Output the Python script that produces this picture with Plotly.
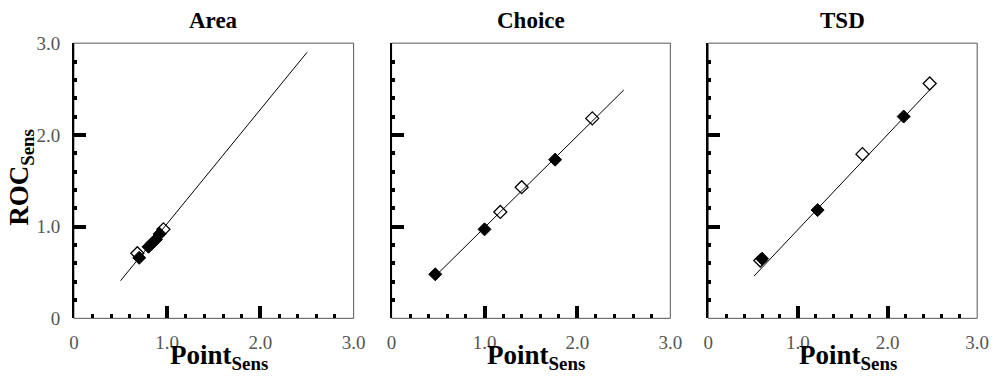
import plotly.graph_objects as go

panels = ["Area", "Choice", "TSD"]

area_filled_x = [0.70, 0.80, 0.84, 0.88, 0.92]
area_filled_y = [0.66, 0.78, 0.82, 0.86, 0.92]
area_open_x = [0.68, 0.96]
area_open_y = [0.71, 0.97]
area_line_x = [0.50, 2.50]
area_line_y = [0.41, 2.90]

choice_filled_x = [0.47, 1.00, 1.76]
choice_filled_y = [0.48, 0.97, 1.73]
choice_open_x = [1.17, 1.40, 2.16]
choice_open_y = [1.16, 1.43, 2.18]
choice_line_x = [0.47, 2.50]
choice_line_y = [0.46, 2.49]

tsd_filled_x = [0.60, 1.22, 2.18]
tsd_filled_y = [0.65, 1.18, 2.20]
tsd_open_x = [0.58, 1.72, 2.47]
tsd_open_y = [0.63, 1.79, 2.56]
tsd_line_x = [0.51, 2.48]
tsd_line_y = [0.46, 2.50]

tick_vals = [0, 1, 2, 3]
tick_text = ["0", "1.0", "2.0", "3.0"]

series = [
    (area_line_x, area_line_y, area_filled_x, area_filled_y, area_open_x, area_open_y),
    (choice_line_x, choice_line_y, choice_filled_x, choice_filled_y, choice_open_x, choice_open_y),
    (tsd_line_x, tsd_line_y, tsd_filled_x, tsd_filled_y, tsd_open_x, tsd_open_y),
]

W, H = 1000, 384
# the page photo is slightly squeezed; place things so the photo matches
OFF_X, SCALE_X = 4.0, 0.984
OFF_Y, SCALE_Y = 8.5, 0.955


def px(img_px):
    return min(1.0, ((img_px - OFF_X) / SCALE_X) / W)


def py(img_px):
    return 1 - ((img_px - OFF_Y) / SCALE_Y) / H


x_domains = [[px(73), px(353)], [px(391), px(670)], [px(708), min(px(987), 0.989)]]
y_domain = [py(320), py(42)]

SERIF = "Liberation Serif"
fig = go.Figure()

for i, (lx, ly, fx, fy, ox, oy) in enumerate(series):
    sfx = "" if i == 0 else str(i + 1)
    xa, ya = "x" + sfx, "y" + sfx
    fig.add_trace(go.Scatter(x=lx, y=ly, mode="lines", xaxis=xa, yaxis=ya,
                             line=dict(color="black", width=1), showlegend=False))
    fig.add_trace(go.Scatter(x=ox, y=oy, mode="markers", xaxis=xa, yaxis=ya,
                             marker=dict(symbol="diamond-open", size=10, color="black",
                                         line=dict(color="black", width=1.3)),
                             showlegend=False))
    fig.add_trace(go.Scatter(x=fx, y=fy, mode="markers", xaxis=xa, yaxis=ya,
                             marker=dict(symbol="diamond", size=10, color="black",
                                         line=dict(color="black", width=1)),
                             showlegend=False))

layout = dict(
    width=W, height=H,
    margin=dict(l=0, r=0, t=0, b=0),
    paper_bgcolor="white", plot_bgcolor="white",
    showlegend=False,
)

for i in range(3):
    sfx = "" if i == 0 else str(i + 1)
    layout["xaxis" + sfx] = dict(
        domain=x_domains[i], anchor="y" + sfx, range=[0, 3],
        tickvals=tick_vals, ticktext=tick_text,
        ticks="inside", ticklen=12, tickwidth=4, tickcolor="black",
        minor=dict(ticks="inside", dtick=0.2, tick0=0, ticklen=4, tickwidth=3, tickcolor="black"),
        showgrid=False, zeroline=False, showline=False,
        tickfont=dict(family=SERIF, size=19, color="#555555"),
        ticklabelstandoff=11, fixedrange=True,
    )
    layout["yaxis" + sfx] = dict(
        domain=y_domain, anchor="x" + sfx, range=[0, 3],
        tickvals=tick_vals, ticktext=tick_text,
        ticks="inside", ticklen=12, tickwidth=4, tickcolor="black",
        minor=dict(ticks="inside", dtick=0.2, tick0=0, ticklen=3, tickwidth=4, tickcolor="black"),
        showgrid=False, zeroline=False,
        showline=True, linecolor="black", linewidth=2,
        showticklabels=(i == 0),
        tickfont=dict(family=SERIF, size=19, color="#555555"),
        ticklabelstandoff=8, fixedrange=True,
    )

fig.update_layout(**layout)

shapes = []
annotations = []
for i in range(3):
    sfx = "" if i == 0 else str(i + 1)
    shapes.append(dict(type="rect", xref="x" + sfx + " domain", yref="y" + sfx + " domain",
                       x0=0, x1=1, y0=0, y1=1, line=dict(color="#555555", width=1),
                       layer="below"))
    cx = (x_domains[i][0] + x_domains[i][1]) / 2
    annotations.append(dict(text=panels[i], x=cx, y=py(19), xref="paper", yref="paper",
                            showarrow=False, xanchor="center", yanchor="middle",
                            font=dict(family=SERIF, size=23, color="black", weight="bold")))
    annotations.append(dict(text="Point<sub>Sens</sub>", x=cx + 0.005, y=py(359),
                            xref="paper", yref="paper", showarrow=False,
                            xanchor="center", yanchor="middle",
                            font=dict(family=SERIF, size=27, color="black", weight="bold")))
annotations.append(dict(text="ROC<sub>Sens</sub>", x=px(20), y=py(177),
                        xref="paper", yref="paper", showarrow=False, textangle=-90,
                        xanchor="center", yanchor="middle",
                        font=dict(family=SERIF, size=27, color="black", weight="bold")))
fig.update_layout(shapes=shapes, annotations=annotations)

fig.write_html("out.html")
